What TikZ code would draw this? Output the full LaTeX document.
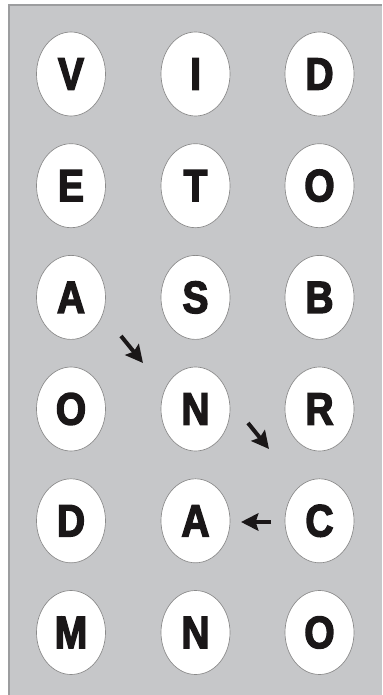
\documentclass[tikz,border=0pt]{standalone}
\usepackage{fontspec}
\setmainfont{Liberation Sans}
\newfontfamily\tilefont[BoldFeatures={FakeBold=3, FakeStretch=0.86}]{Liberation Sans}
\usetikzlibrary{shapes.geometric, arrows.meta, positioning}
\definecolor{panelgray}{HTML}{C6C7C9}
\definecolor{framegray}{HTML}{9C9D9F}
\definecolor{rimgray}{HTML}{8A8A8A}
\definecolor{inkblack}{HTML}{1A1718}
\tikzset{
    tile/.style={ellipse, draw=rimgray, line width=0.5pt, fill=white, minimum width=51.75pt, minimum height=63pt, inner sep=0pt, text=inkblack, font=\tilefont\fontsize{34}{34}\selectfont\bfseries},
    hint/.style={-{Stealth[length=13pt, width=13pt, inset=2pt]}, line width=3pt, inkblack},
}

\begin{document}
\begin{tikzpicture}[x=0.75pt, y=-0.75pt]

\useasboundingbox (0, 0) rectangle (382, 695);

% ── Panel ──
\fill[white] (0, 0) rectangle (382, 695);
\fill[panelgray] (9, 5) rectangle (382, 695);
\draw[framegray, line width=0.8pt] (9, 695) -- (9, 5) -- (382, 5);

% ── Row 1 ──
\node[tile] (v1) at (71, 74) {V};
\node[tile] (i1) at (195.5, 74) {I};
\node[tile] (d1) at (319.5, 74) {D};

% ── Row 2 ──
\node[tile] (e2) at (71, 185.7) {E};
\node[tile] (t2) at (195.5, 185.7) {T};
\node[tile] (o2) at (319.5, 185.7) {O};

% ── Row 3 ──
\node[tile] (a3) at (71, 297.4) {A};
\node[tile] (s3) at (195.5, 297.4) {S};
\node[tile] (b3) at (319.5, 297.4) {B};

% ── Row 4 ──
\node[tile] (o4) at (71, 409) {O};
\node[tile] (n4) at (195.5, 409) {N};
\node[tile] (r4) at (319.5, 409) {R};

% ── Row 5 ──
\node[tile] (d5) at (71, 520.8) {D};
\node[tile] (a5) at (195.5, 520.8) {A};
\node[tile] (c5) at (319.5, 520.8) {C};

% ── Row 6 ──
\node[tile] (m6) at (71, 632.5) {M};
\node[tile] (n6) at (195.5, 632.5) {N};
\node[tile] (o6) at (319.5, 632.5) {O};

% ── Hints ──
\coordinate (h1s) at (121, 336);
\coordinate (h1e) at (143, 363);
\coordinate (h2s) at (248, 423);
\coordinate (h2e) at (269, 449);
\coordinate (h3s) at (271, 522);
\coordinate (h3e) at (241, 522);

\draw[hint] (h1s) -- (h1e);
\draw[hint] (h2s) -- (h2e);
\draw[hint] (h3s) -- (h3e);

\end{tikzpicture}
\end{document}
